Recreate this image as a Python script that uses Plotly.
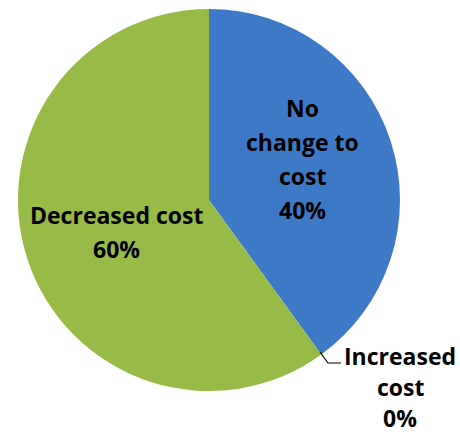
import plotly.graph_objects as go

labels = ["No change to cost", "Increased cost", "Decreased cost"]
values = [40, 0, 60]
colors = ["#3e79c7", "#5a8ed2", "#98bb48"]
label_lines = [["No", "change to", "cost", "40%"],
               ["Increased", "cost", "0%"],
               ["Decreased cost", "60%"]]

W, H = 460, 434
def px(x): return x / W
def py(y): return 1 - y / H

cx, cy, r = 209, 200, 191

fig = go.Figure(go.Pie(
    labels=labels, values=values, sort=False, direction="clockwise", rotation=0,
    marker=dict(colors=colors, line=dict(width=0)),
    textinfo="none", hoverinfo="label+percent", showlegend=False,
    domain=dict(x=[px(cx - r), px(cx + r)], y=[py(cy + r), py(cy - r)]),
))

font = dict(family="Open Sans", size=23, color="#000000")
# label positions (pixel centers of first line) and line spacing
anchors = [(302, 108, 34), (400, 356, 31), (117, 215, 34)]
for lines, (ax, ay, sp) in zip(label_lines, anchors):
    for i, t in enumerate(lines):
        fig.add_annotation(x=px(ax), y=py(ay + i * sp), xref="paper", yref="paper",
                           text="<b>%s</b>" % t, showarrow=False, font=font,
                           xanchor="center", yanchor="middle")

# leader line for the 0% slice
fig.add_shape(type="path", xref="paper", yref="paper",
              path="M %f,%f L %f,%f L %f,%f" % (px(320), py(352), px(328), py(363), px(341), py(363)),
              line=dict(color="#000000", width=1.2))

fig.update_layout(width=W, height=H, margin=dict(l=0, r=0, t=0, b=0),
                  paper_bgcolor="white", plot_bgcolor="white")
fig.write_html("out.html")
